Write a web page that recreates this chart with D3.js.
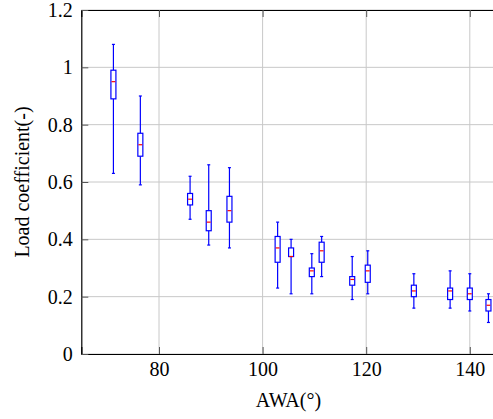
<!DOCTYPE html>
<html><head><meta charset="utf-8">
<script src="https://cdn.jsdelivr.net/npm/d3@7"></script>
<style>body{margin:0;background:#fff}svg{display:block}</style>
</head><body>
<script>
const awa      = [71.2, 76.4, 86.0, 89.6, 93.6, 102.9, 105.5, 109.5, 111.4, 117.3, 120.3, 129.2, 136.2, 140.0, 143.6];
const whiskLo  = [0.63, 0.59, 0.47, 0.38, 0.37, 0.23, 0.21, 0.21, 0.27, 0.19, 0.21, 0.16, 0.16, 0.15, 0.11];
const q1       = [0.89, 0.69, 0.52, 0.43, 0.46, 0.32, 0.34, 0.27, 0.32, 0.24, 0.25, 0.20, 0.19, 0.19, 0.15];
const median   = [0.95, 0.73, 0.54, 0.46, 0.50, 0.37, 0.34, 0.29, 0.36, 0.26, 0.29, 0.22, 0.22, 0.21, 0.17];
const q3       = [0.99, 0.77, 0.56, 0.50, 0.55, 0.41, 0.37, 0.30, 0.39, 0.27, 0.31, 0.24, 0.23, 0.23, 0.19];
const whiskHi  = [1.08, 0.90, 0.62, 0.66, 0.65, 0.46, 0.40, 0.35, 0.41, 0.34, 0.36, 0.28, 0.29, 0.28, 0.21];
const xTicks = [80, 100, 120, 140];
const yTicks = [0, 0.2, 0.4, 0.6, 0.8, 1, 1.2];
const xLabel = "AWA(°)";
const yLabel = "Load coefficient(-)";

const FONT = "Liberation Serif";
const W = 493, H = 419;
const L = 81.3, R = 495.7, T = 10, B = 354;
const svg = d3.select("body").append("svg").attr("width", W).attr("height", H);
const x = d3.scaleLinear().domain([65, 145]).range([L, R]);
const y = d3.scaleLinear().domain([0, 1.2]).range([B, T]);

// grid
const g = svg.append("g");
g.selectAll(".gx").data(xTicks).join("line")
  .attr("x1", d => x(d)).attr("x2", d => x(d)).attr("y1", T).attr("y2", B)
  .attr("stroke", "#c8c8c8").attr("stroke-width", 1);
g.selectAll(".gy").data(yTicks).join("line")
  .attr("x1", L).attr("x2", R).attr("y1", d => y(d)).attr("y2", d => y(d))
  .attr("stroke", "#c8c8c8").attr("stroke-width", 1);

// axes (inward ticks)
const fmt = d => d3.format("~g")(d);
const xAxisB = d3.axisBottom(x).tickValues(xTicks).tickSize(-7).tickPadding(8).tickFormat(fmt);
const xAxisT = d3.axisTop(x).tickValues(xTicks).tickSize(-7).tickFormat("");
const yAxisL = d3.axisLeft(y).tickValues(yTicks).tickSize(-7).tickPadding(8.5).tickFormat(fmt);
const ax = svg.append("g");
const gb = ax.append("g").attr("transform", `translate(0,${B})`).call(xAxisB);
const gt = ax.append("g").attr("transform", `translate(0,${T})`).call(xAxisT);
const gl = ax.append("g").attr("transform", `translate(${L},0)`).call(yAxisL);
[gb, gt, gl].forEach(a => {
  a.attr("font-family", FONT).attr("font-size", 20);
  a.select(".domain").attr("stroke", "#000").attr("stroke-width", 1.2);
  a.selectAll(".tick line").attr("stroke", "#555").attr("stroke-width", 1);
  a.selectAll("text").attr("font-family", FONT).attr("font-size", 20).attr("fill", "#000");
});

// boxes
const data = awa.map((a, i) => ({a, lo: whiskLo[i], q1: q1[i], m: median[i], q3: q3[i], hi: whiskHi[i]}));
const bw = 5, cw = 3;
const bx = svg.append("g");
const box = bx.selectAll("g").data(data).join("g");
box.append("line").attr("x1", d => x(d.a)).attr("x2", d => x(d.a))
  .attr("y1", d => y(d.hi)).attr("y2", d => y(d.q3)).attr("stroke", "#0000ff").attr("stroke-width", 1.2);
box.append("line").attr("x1", d => x(d.a)).attr("x2", d => x(d.a))
  .attr("y1", d => y(d.q1)).attr("y2", d => y(d.lo)).attr("stroke", "#0000ff").attr("stroke-width", 1.2);
box.append("line").attr("x1", d => x(d.a) - cw/2).attr("x2", d => x(d.a) + cw/2)
  .attr("y1", d => y(d.hi)).attr("y2", d => y(d.hi)).attr("stroke", "#0000ff").attr("stroke-width", 1.2);
box.append("line").attr("x1", d => x(d.a) - cw/2).attr("x2", d => x(d.a) + cw/2)
  .attr("y1", d => y(d.lo)).attr("y2", d => y(d.lo)).attr("stroke", "#0000ff").attr("stroke-width", 1.2);
box.append("rect").attr("x", d => x(d.a) - bw/2).attr("width", bw)
  .attr("y", d => y(d.q3)).attr("height", d => y(d.q1) - y(d.q3))
  .attr("fill", "#fff").attr("stroke", "#0000ff").attr("stroke-width", 1.2);
box.append("line").attr("x1", d => x(d.a) - bw/2 + 0.6).attr("x2", d => x(d.a) + bw/2 - 0.6)
  .attr("y1", d => y(d.m)).attr("y2", d => y(d.m)).attr("stroke", "#ff0000").attr("stroke-width", 1.2);

// labels
svg.append("text").attr("x", (L + R) / 2).attr("y", 407).attr("text-anchor", "middle")
  .attr("font-family", FONT).attr("font-size", 20).attr("fill", "#000").text(xLabel);
svg.append("text").attr("transform", `translate(29,${(T + B) / 2}) rotate(-90)`).attr("text-anchor", "middle")
  .attr("font-family", FONT).attr("font-size", 20).attr("fill", "#000").text(yLabel);
</script>
</body></html>
